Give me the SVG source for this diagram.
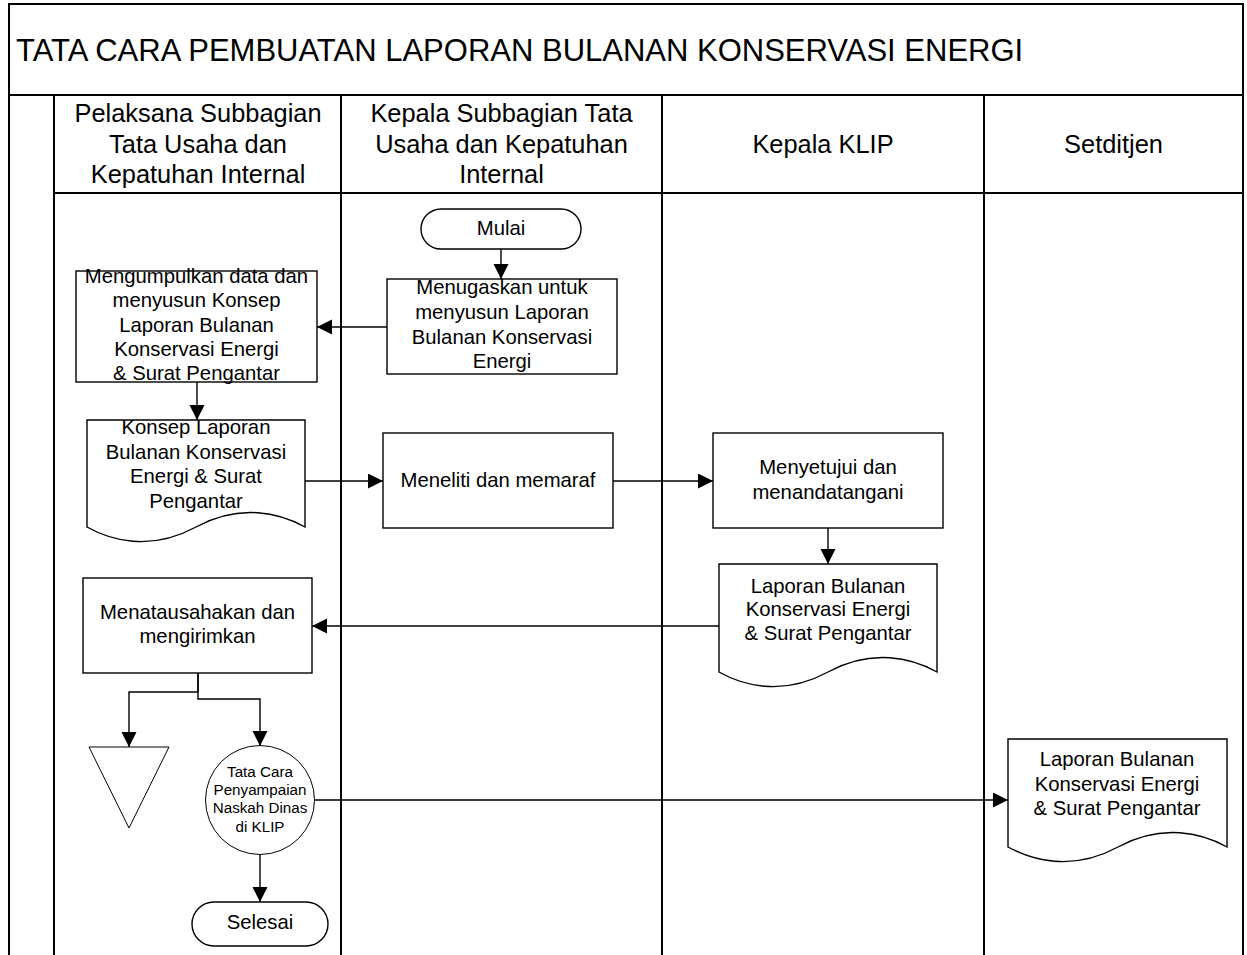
<svg xmlns="http://www.w3.org/2000/svg" width="1247" height="955" viewBox="0 0 1247 955">
<style>
text{font-family:"Liberation Sans",Arial,sans-serif;fill:#000;text-anchor:middle}
.t{font-size:20.3px}
.h{font-size:25.4px}
.s{font-size:15.2px}
.lane{fill:none;stroke:#000;stroke-width:2}
.shape{fill:#fff;stroke:#000;stroke-width:1.4}
.thin{fill:#fff;stroke:#000;stroke-width:1}
.c{fill:none;stroke:#000;stroke-width:1.4}
</style>
<defs>
<marker id="arr" markerUnits="userSpaceOnUse" markerWidth="16" markerHeight="16" refX="15" refY="7.5" orient="auto">
<path d="M0,0 L15,7.5 L0,15 z" fill="#000"/>
</marker>
</defs>
<rect width="1247" height="955" fill="#fff"/>
<g id="frame">
<path class="lane" d="M9,955 V4 H1243 V955"/>
<line class="lane" x1="9" y1="95" x2="1243" y2="95"/>
<line class="lane" x1="54" y1="193" x2="1243" y2="193"/>
<line class="lane" x1="54" y1="95" x2="54" y2="955"/>
<line class="lane" x1="341" y1="95" x2="341" y2="955"/>
<line class="lane" x1="662" y1="95" x2="662" y2="955"/>
<line class="lane" x1="984" y1="95" x2="984" y2="955"/>
<text x="16" y="61" style="font-size:31px;text-anchor:start">TATA CARA PEMBUATAN LAPORAN BULANAN KONSERVASI ENERGI</text>
<text class="h" x="198" y="122">Pelaksana Subbagian</text>
<text class="h" x="198" y="152.5">Tata Usaha dan</text>
<text class="h" x="198" y="183">Kepatuhan Internal</text>
<text class="h" x="501.5" y="122">Kepala Subbagian Tata</text>
<text class="h" x="501.5" y="152.5">Usaha dan Kepatuhan</text>
<text class="h" x="501.5" y="183">Internal</text>
<text class="h" x="823" y="153">Kepala KLIP</text>
<text class="h" x="1113.5" y="153">Setditjen</text>
</g>
<g id="connectors">
<line class="c" x1="501" y1="249" x2="501" y2="279" marker-end="url(#arr)"/>
<line class="c" x1="387" y1="327" x2="317" y2="327" marker-end="url(#arr)"/>
<line class="c" x1="197" y1="382" x2="197" y2="420" marker-end="url(#arr)"/>
<line class="c" x1="305" y1="481" x2="383" y2="481" marker-end="url(#arr)"/>
<line class="c" x1="613" y1="481" x2="713" y2="481" marker-end="url(#arr)"/>
<line class="c" x1="828" y1="528" x2="828" y2="564" marker-end="url(#arr)"/>
<line class="c" x1="719" y1="626" x2="312" y2="626" marker-end="url(#arr)"/>
<polyline class="c" points="198,673 198,692 129,692 129,747" marker-end="url(#arr)"/>
<polyline class="c" points="198,673 198,699 260,699 260,746" marker-end="url(#arr)"/>
<line class="c" x1="260" y1="855" x2="260" y2="902" marker-end="url(#arr)"/>
<line class="c" x1="315" y1="800" x2="1008" y2="800" marker-end="url(#arr)"/>
</g>
<g id="mulai">
<rect class="shape" x="421" y="209" width="160" height="40" rx="20"/>
<text class="t" x="501" y="235">Mulai</text>
</g>
<g id="menugaskan">
<rect class="shape" x="387" y="279" width="230" height="95"/>
<text class="t" x="502" y="294">Menugaskan untuk</text>
<text class="t" x="502" y="319">menyusun Laporan</text>
<text class="t" x="502" y="344">Bulanan Konservasi</text>
<text class="t" x="502" y="368">Energi</text>
</g>
<g id="mengumpulkan">
<rect class="shape" x="76" y="271" width="241" height="111"/>
<text class="t" x="196.5" y="283">Mengumpulkan data dan</text>
<text class="t" x="196.5" y="307">menyusun Konsep</text>
<text class="t" x="196.5" y="332">Laporan Bulanan</text>
<text class="t" x="196.5" y="356">Konservasi Energi</text>
<text class="t" x="196.5" y="380">&amp; Surat Pengantar</text>
</g>
<g id="konsep">
<path class="shape" d="M87,420 H305 V527 C280,513 240,503 196,527 C150,552 110,540 87,527 Z"/>
<text class="t" x="196" y="434">Konsep Laporan</text>
<text class="t" x="196" y="459">Bulanan Konservasi</text>
<text class="t" x="196" y="483">Energi &amp; Surat</text>
<text class="t" x="196" y="508">Pengantar</text>
</g>
<g id="meneliti">
<rect class="shape" x="383" y="433" width="230" height="95"/>
<text class="t" x="498" y="487">Meneliti dan memaraf</text>
</g>
<g id="menyetujui">
<rect class="shape" x="713" y="433" width="230" height="95"/>
<text class="t" x="828" y="474">Menyetujui dan</text>
<text class="t" x="828" y="499">menandatangani</text>
</g>
<g id="laporan-klip">
<path class="shape" d="M719,564 H937 V672 C912,658 872,648 828,672 C782,697 742,685 719,672 Z"/>
<text class="t" x="828" y="593">Laporan Bulanan</text>
<text class="t" x="828" y="616">Konservasi Energi</text>
<text class="t" x="828" y="640">&amp; Surat Pengantar</text>
</g>
<g id="menatausahakan">
<rect class="shape" x="83" y="578" width="229" height="95"/>
<text class="t" x="197.5" y="619">Menatausahakan dan</text>
<text class="t" x="197.5" y="643">mengirimkan</text>
</g>
<g id="arsip">
<polygon class="thin" points="89,747 169,747 129,828"/>
</g>
<g id="tata-cara">
<circle class="thin" cx="260" cy="800" r="54.5"/>
<text class="s" x="260" y="777">Tata Cara</text>
<text class="s" x="260" y="795">Penyampaian</text>
<text class="s" x="260" y="813">Naskah Dinas</text>
<text class="s" x="260" y="831.5">di KLIP</text>
</g>
<g id="selesai">
<rect class="shape" x="192" y="902" width="136" height="44" rx="22"/>
<text class="t" x="260" y="929">Selesai</text>
</g>
<g id="laporan-setditjen">
<path class="shape" d="M1008,739 H1227 V847 C1202,833 1162,823 1118,847 C1072,872 1032,860 1008,847 Z"/>
<text class="t" x="1117" y="766">Laporan Bulanan</text>
<text class="t" x="1117" y="791">Konservasi Energi</text>
<text class="t" x="1117" y="815">&amp; Surat Pengantar</text>
</g>
</svg>
